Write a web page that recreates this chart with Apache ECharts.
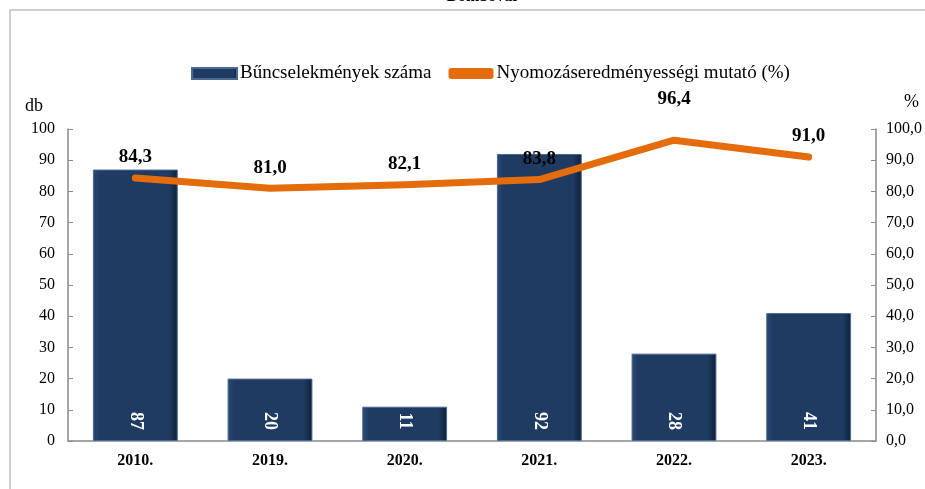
<!DOCTYPE html>
<html><head><meta charset="utf-8">
<script src="https://cdn.jsdelivr.net/npm/echarts@6/dist/echarts.min.js"></script>
<style>html,body{margin:0;padding:0;background:#fff}#c{width:925px;height:489px}</style>
</head><body><div id="c"></div>
<script>
const categories = ['2010.', '2019.', '2020.', '2021.', '2022.', '2023.'];
const crimeCounts = [87, 20, 11, 92, 28, 41];
const efficiency = [84.3, 81.0, 82.1, 83.8, 96.4, 91.0];
const leftTicks = [0, 100, 10];
const rightTicks = [0, 100, 10];

const FONT = '"Liberation Serif", "Times New Roman", serif';
const chart = echarts.init(document.getElementById('c'));
chart.setOption({
  animation: false,
  textStyle: { fontFamily: FONT },
  title: {
    text: 'Dombóvár', left: 478, textAlign: 'center', top: -16,
    textStyle: { fontFamily: FONT, fontSize: 16, fontWeight: 'bold', color: '#000' }
  },
  graphic: [{
    type: 'rect', shape: { x: 10, y: 10, width: 930, height: 500 },
    style: { fill: 'none', stroke: '#bfbfbf', lineWidth: 1.5 }, silent: true, z: -1
  }],
  legend: {
    top: 59, left: 186, itemGap: 17, itemWidth: 45, itemHeight: 11,
    textStyle: { fontFamily: FONT, fontSize: 19, color: '#000', padding: [0, 0, 0, -2] },
    data: [
      { name: 'Bűncselekmények száma', icon: 'rect' },
      { name: 'Nyomozáseredményességi mutató (%)', icon: 'roundRect' }
    ]
  },
  grid: { left: 68, right: 49, top: 129, bottom: 48 },
  xAxis: {
    type: 'category', data: categories,
    axisLine: { lineStyle: { color: '#898989', width: 1.5 } },
    axisTick: { show: false },
    axisLabel: { fontFamily: FONT, fontSize: 16, fontWeight: 'bold', color: '#000', margin: 12 }
  },
  yAxis: [{
    type: 'value', min: leftTicks[0], max: leftTicks[1], interval: leftTicks[2],
    name: 'db', nameLocation: 'end', nameGap: 14,
    nameTextStyle: { fontFamily: FONT, fontSize: 18, color: '#000', align: 'right', padding: [0, 25, 0, 0] },
    axisLine: { show: true, lineStyle: { color: '#898989', width: 1.5 } },
    axisTick: { show: true, inside: true, length: 5, lineStyle: { color: '#898989' } },
    splitLine: { show: false },
    axisLabel: { fontFamily: FONT, fontSize: 16, color: '#000', margin: 13 }
  }, {
    type: 'value', min: rightTicks[0], max: rightTicks[1], interval: rightTicks[2],
    name: '%', nameLocation: 'end', nameGap: 18,
    nameTextStyle: { fontFamily: FONT, fontSize: 18, color: '#000', align: 'left', padding: [0, 0, 0, 28] },
    axisLine: { show: true, lineStyle: { color: '#898989', width: 1.5 } },
    axisTick: { show: true, inside: true, length: 5, lineStyle: { color: '#898989' } },
    splitLine: { show: false },
    axisLabel: { fontFamily: FONT, fontSize: 16, color: '#000', margin: 10,
      formatter: v => v.toFixed(1).replace('.', ',') }
  }],
  series: [{
    name: 'Bűncselekmények száma', type: 'bar', data: crimeCounts, barWidth: '63%',
    itemStyle: {
      color: new echarts.graphic.LinearGradient(0, 0, 1, 0, [
        { offset: 0, color: '#2a4a75' }, { offset: 0.08, color: '#1f3b62' },
        { offset: 0.9, color: '#1f3b62' }, { offset: 1, color: '#0f1f36' }
      ]),
      borderColor: '#4a6a94', borderWidth: 1
    },
    label: {
      show: true, position: 'insideBottom', rotate: -90, distance: 20,
      align: 'center', verticalAlign: 'middle',
      fontFamily: FONT, fontSize: 18, fontWeight: 'bold', color: '#fff'
    },
    z: 2
  }, {
    name: 'Nyomozáseredményességi mutató (%)', type: 'line', yAxisIndex: 1,
    data: efficiency.map((v, i) => i === 4 ? { value: v, label: { distance: 32 } } : v),
    symbol: 'circle', symbolSize: 0, showSymbol: true,
    lineStyle: { color: '#e46c0a', width: 7, cap: 'round', join: 'round' },
    itemStyle: { color: '#e46c0a' },
    label: {
      show: true, position: 'top', distance: 11,
      fontFamily: FONT, fontSize: 19, fontWeight: 'bold', color: '#000',
      formatter: p => p.value.toFixed(1).replace('.', ',')
    },
    z: 3
  }]
});
</script></body></html>
